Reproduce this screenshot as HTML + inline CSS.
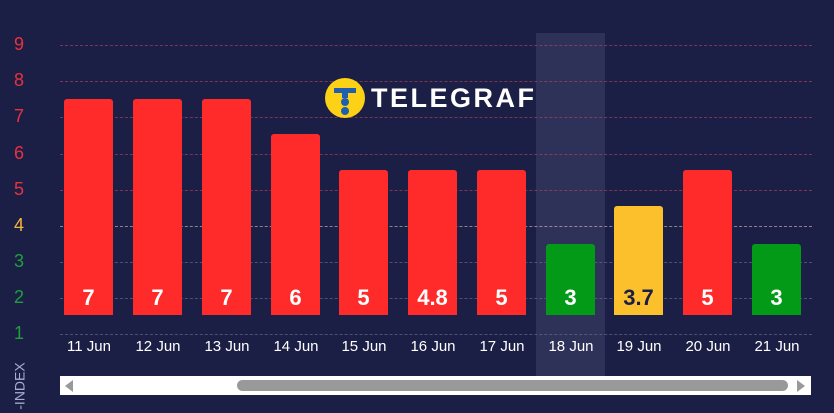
<!DOCTYPE html>
<html><head><style>
body{margin:0;width:834px;height:413px;background:#1c1f45;overflow:hidden;font-family:"Liberation Sans",sans-serif;position:relative}
.a{position:absolute}
.g{position:absolute;left:60px;width:752px;border-top:1px dashed rgba(190,70,90,.6)}
.yl{position:absolute;left:14px;font-size:18px;width:16px;text-align:left}
.b{position:absolute;width:49px;border-radius:3px 3px 0 0;bottom:98px;color:#fff;font-weight:bold;font-size:22px;text-align:center}
.b span{position:absolute;bottom:4px;left:0;right:0}
.x{position:absolute;top:338px;color:#fff;font-size:15px;width:70px;text-align:center}
</style></head><body>
<div class="a" style="left:536px;top:33px;width:69px;height:345px;background:#2e3158"></div>
<div class="g" style="top:45px"></div><div class="g" style="top:81px"></div><div class="g" style="top:117px"></div><div class="g" style="top:154px"></div><div class="g" style="top:190px"></div>
<div class="g" style="top:226px;border-color:rgba(220,200,170,.6)"></div><div class="g" style="top:262px;border-color:rgba(120,110,140,.6)"></div><div class="g" style="top:298px;border-color:rgba(120,110,140,.6)"></div><div class="g" style="top:334px;border-color:rgba(120,110,140,.6)"></div>
<div class="yl" style="top:34px;color:#e8313f">9</div><div class="yl" style="top:70px;color:#e8313f">8</div><div class="yl" style="top:106px;color:#e8313f">7</div><div class="yl" style="top:143px;color:#e8313f">6</div><div class="yl" style="top:179px;color:#e8313f">5</div>
<div class="yl" style="top:215px;color:#f5b53a">4</div><div class="yl" style="top:251px;color:#1ea039">3</div><div class="yl" style="top:287px;color:#1ea039">2</div><div class="yl" style="top:323px;color:#1ea039">1</div>
<div class="a" style="left:-4px;top:378px;transform:rotate(-90deg);color:#a8acd0;font-size:14px">-INDEX</div>
<div class="b" style="left:64px;top:99px;background:#ff2b2b"><span>7</span></div>
<div class="b" style="left:133px;top:99px;background:#ff2b2b"><span>7</span></div>
<div class="b" style="left:202px;top:99px;background:#ff2b2b"><span>7</span></div>
<div class="b" style="left:271px;top:134px;background:#ff2b2b"><span>6</span></div>
<div class="b" style="left:339px;top:170px;background:#ff2b2b"><span>5</span></div>
<div class="b" style="left:408px;top:170px;background:#ff2b2b"><span>4.8</span></div>
<div class="b" style="left:477px;top:170px;background:#ff2b2b"><span>5</span></div>
<div class="b" style="left:546px;top:244px;background:#029a16"><span>3</span></div>
<div class="b" style="left:614px;top:206px;background:#fcc02d;color:#1c1f45"><span>3.7</span></div>
<div class="b" style="left:683px;top:170px;background:#ff2b2b"><span>5</span></div>
<div class="b" style="left:752px;top:244px;background:#029a16"><span>3</span></div>
<div class="x" style="left:54px">11 Jun</div><div class="x" style="left:123px">12 Jun</div><div class="x" style="left:192px">13 Jun</div><div class="x" style="left:261px">14 Jun</div><div class="x" style="left:329px">15 Jun</div><div class="x" style="left:398px">16 Jun</div><div class="x" style="left:467px">17 Jun</div><div class="x" style="left:536px">18 Jun</div><div class="x" style="left:604px">19 Jun</div><div class="x" style="left:673px">20 Jun</div><div class="x" style="left:742px">21 Jun</div>
<div class="a" style="left:60px;top:376px;width:751px;height:19px;background:#fff"></div>
<div class="a" style="left:237px;top:380px;width:551px;height:11px;background:#999;border-radius:6px"></div>
<div class="a" style="left:65px;top:380px;width:0;height:0;border-top:6px solid transparent;border-bottom:6px solid transparent;border-right:8px solid #999"></div>
<div class="a" style="left:797px;top:380px;width:0;height:0;border-top:6px solid transparent;border-bottom:6px solid transparent;border-left:8px solid #999"></div>
<div class="a" style="left:325px;top:78px;width:40px;height:40px;border-radius:50%;background:#fcd116"></div>
<div class="a" style="left:334px;top:88px;width:22px;height:5px;background:#1f5fb0"></div>
<div class="a" style="left:342px;top:93px;width:6px;height:5px;background:#1f5fb0"></div>
<div class="a" style="left:341px;top:98px;width:8px;height:8px;border-radius:50%;background:#1f5fb0"></div>
<div class="a" style="left:341px;top:107px;width:8px;height:8px;border-radius:50%;background:#1f5fb0"></div>
<div class="a" style="left:371px;top:83px;color:#fff;font-weight:bold;font-size:27px;letter-spacing:2.5px">TELEGRAF</div>
</body></html>
